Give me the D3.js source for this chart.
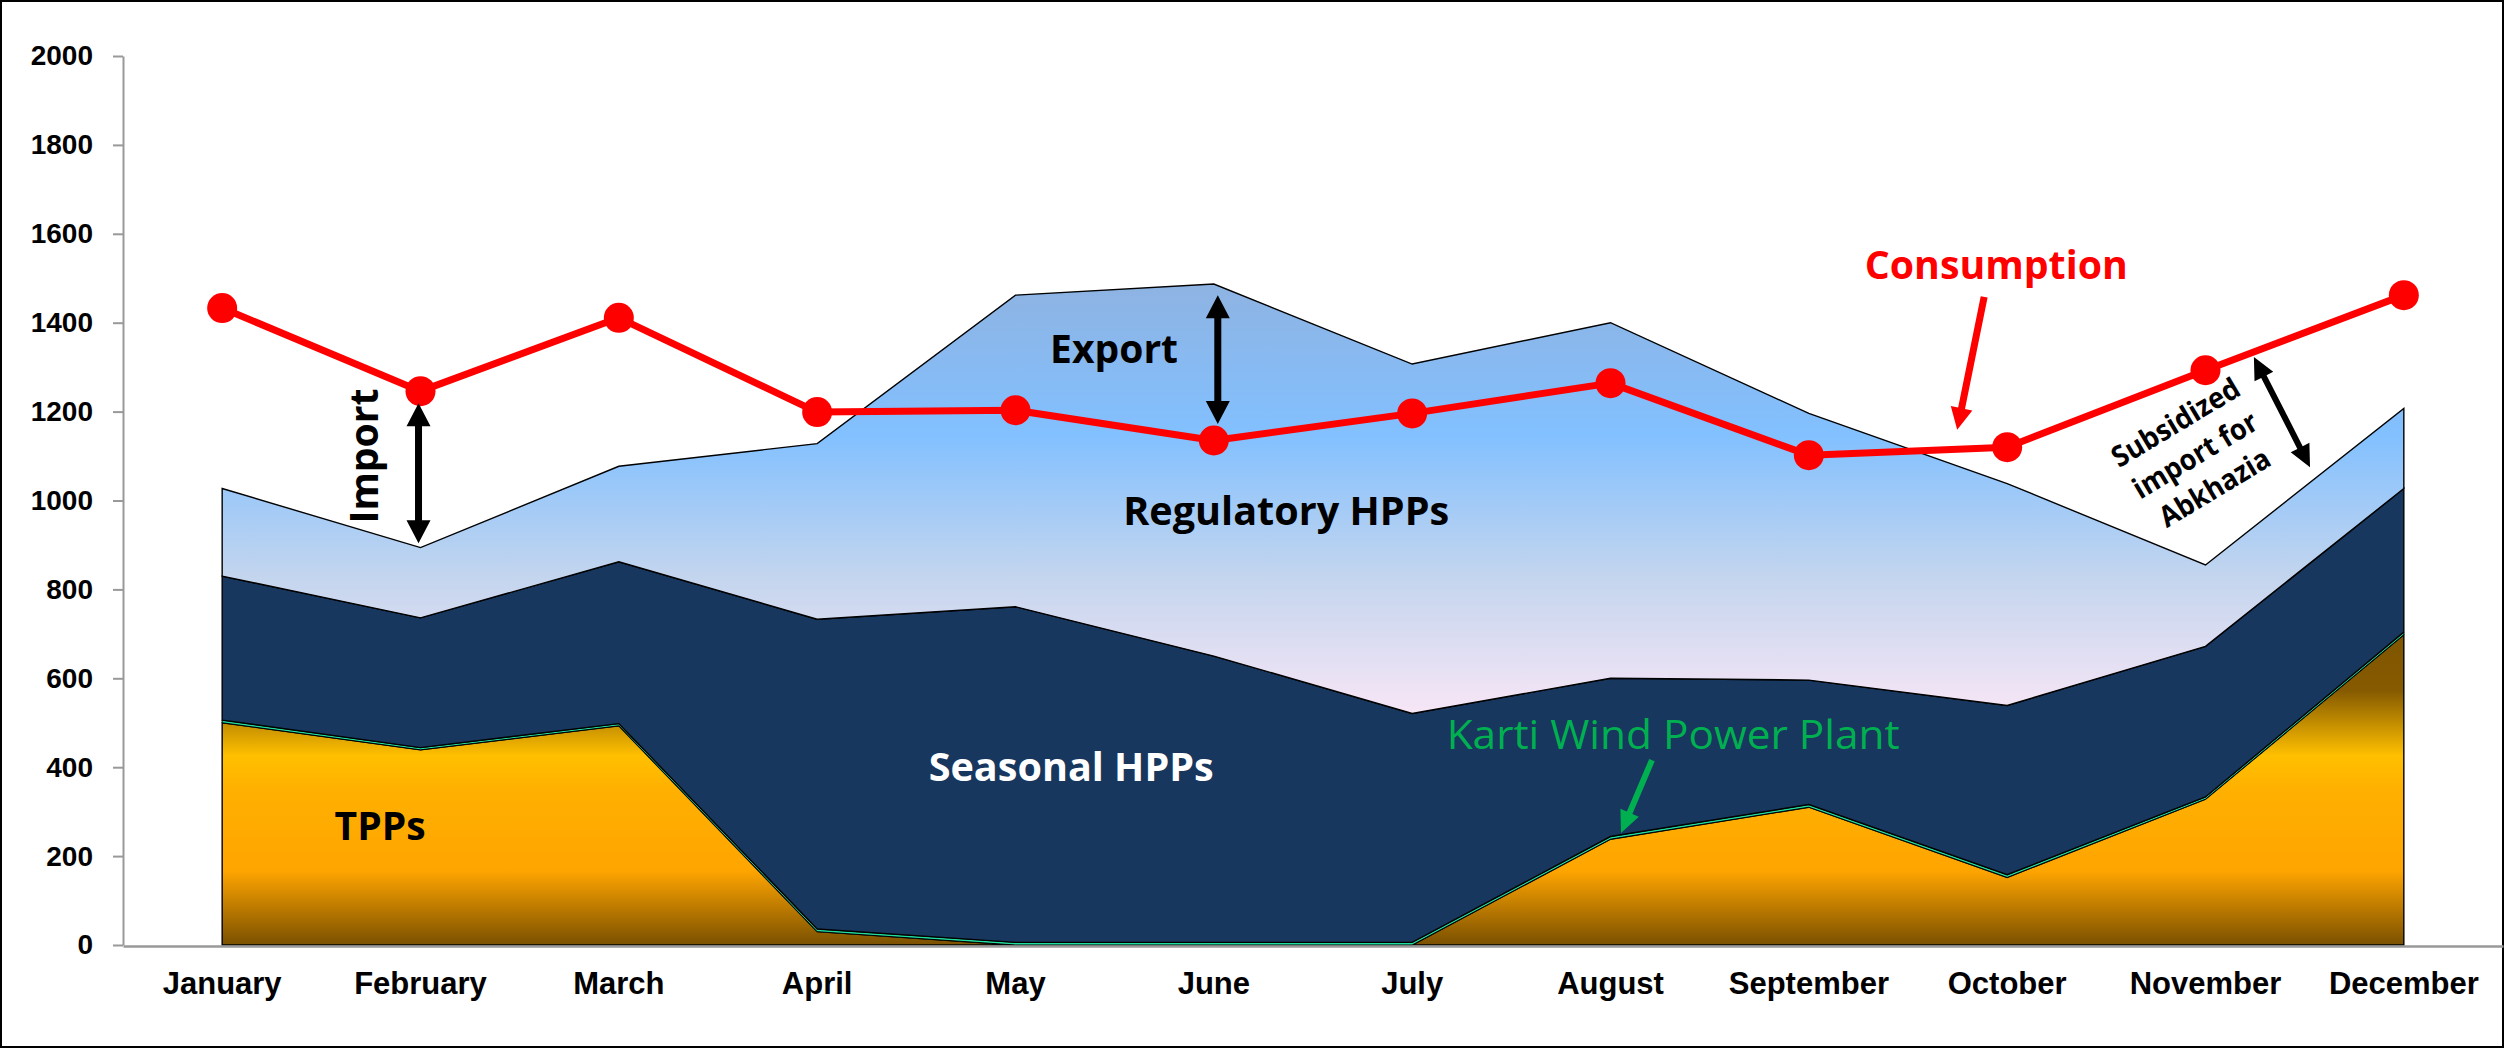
<!DOCTYPE html>
<html><head><meta charset="utf-8">
<script src="https://cdn.jsdelivr.net/npm/d3@7"></script>
<style>html,body{margin:0;padding:0;background:#fff;} svg{display:block;}</style>
</head><body><svg id="chart" width="2504" height="1048"></svg>
<script>
// ---------- data ----------
const months = ["January","February","March","April","May","June","July","August","September","October","November","December"];
const tpp        = [500, 439, 493, 30, 0, 0, 0, 238, 310, 152, 328, 698];
const wind       = [6, 5, 5, 6, 6, 6, 6, 6, 6, 6, 5, 6];
const seasonal   = [324, 292, 364, 697, 755, 644, 515, 356, 280, 381, 339, 323];
const regulatory = [197, 158, 215, 395, 701, 837, 786, 800, 600, 499, 183, 180];
const consumption = [1433, 1246, 1411, 1199, 1203, 1135, 1196, 1264, 1102, 1120, 1293, 1462];
const yTicks = [0, 200, 400, 600, 800, 1000, 1200, 1400, 1600, 1800, 2000];

// ---------- setup ----------
const W = 2504, H = 1048;
const svg = d3.select("#chart");
const x = d3.scaleBand().domain(months).range([123, 2503]).padding(0);
const xc = m => x(m) + x.bandwidth() / 2;
const xi = d3.scaleLinear().domain([0, 11]).range([xc(months[0]), xc(months[11])]);
const y = d3.scaleLinear().domain([0, 2000]).range([945, 56]);

svg.append("rect").attr("x", 1).attr("y", 1).attr("width", W - 2).attr("height", H - 2)
  .attr("fill", "#fff").attr("stroke", "#000").attr("stroke-width", 2);

const defs = svg.append("defs");
function grad(id, stops) {
  const g = defs.append("linearGradient").attr("id", id)
    .attr("x1", 0).attr("y1", 0).attr("x2", 0).attr("y2", 1);
  stops.forEach(([o, c]) => g.append("stop").attr("offset", o).attr("stop-color", c));
}
grad("gTPP", [[0, "#7f5500"], [0.18, "#855a00"], [0.39, "#ffc000"], [0.5, "#ffb000"], [0.76, "#ffa500"], [1, "#7a5000"]]);
grad("gReg", [[0, "#8eb3e2"], [0.35, "#82c0ff"], [0.68, "#c3d5ee"], [1, "#f7e6f6"]]);

// ---------- stacked areas ----------
const rows = months.map((m, i) => ({ i, tpp: tpp[i], wind: wind[i], seasonal: seasonal[i], regulatory: regulatory[i] }));
const keys = ["tpp", "wind", "seasonal", "regulatory"];
const stacked = d3.stack().keys(keys)(rows);
const fills = { tpp: "url(#gTPP)", wind: "#22dda0", seasonal: "#18375e", regulatory: "url(#gReg)" };
const area = d3.area().x((d, i) => xi(i)).y0(d => y(d[0])).y1(d => y(d[1]));

svg.append("g").selectAll("path").data(stacked).join("path")
  .attr("d", area)
  .attr("fill", d => fills[d.key])
  .attr("stroke", "#000")
  .attr("stroke-width", d => d.key === "wind" ? 1 : 1.4)
  .attr("stroke-linejoin", "miter");

// ---------- axes ----------
const yAxis = svg.append("g").attr("transform", "translate(123,0)")
  .call(d3.axisLeft(y).tickValues(yTicks).tickSize(10).tickSizeOuter(0).tickPadding(20).tickFormat(d3.format("d")));
yAxis.select(".domain").attr("stroke", "#999").attr("stroke-width", 2);
yAxis.selectAll(".tick line").attr("stroke", "#999").attr("stroke-width", 2);
yAxis.selectAll(".tick text").attr("font-family", "'Liberation Sans', Arial, sans-serif")
  .attr("font-weight", "bold").attr("font-size", 28).attr("fill", "#000");

const xAxis = svg.append("g").attr("transform", "translate(0,946)")
  .call(d3.axisBottom(x).tickSize(0).tickSizeOuter(0).tickPadding(26));
xAxis.select(".domain").attr("stroke", "#999").attr("stroke-width", 2.5);
xAxis.selectAll(".tick text").attr("font-family", "'Liberation Sans', Arial, sans-serif")
  .attr("font-weight", "bold").attr("font-size", 31).attr("fill", "#000");

// ---------- consumption line ----------
const line = d3.line().x((d, i) => xi(i)).y(d => y(d));
svg.append("path").datum(consumption).attr("d", line)
  .attr("fill", "none").attr("stroke", "#ff0000").attr("stroke-width", 7).attr("stroke-linejoin", "round");
svg.append("g").selectAll("circle").data(consumption).join("circle")
  .attr("cx", (d, i) => xi(i)).attr("cy", d => y(d)).attr("r", 15).attr("fill", "#ff0000");

// ---------- annotations ----------
const ann = svg.append("g");
function arrow(p1, p2, o) {
  const x1 = xi(p1[0]), y1 = y(p1[1]), x2 = xi(p2[0]), y2 = y(p2[1]);
  const dx = x2 - x1, dy = y2 - y1, L = Math.hypot(dx, dy), ux = dx / L, uy = dy / L, nx = -uy, ny = ux;
  const s = o.shaft / 2, hw = o.headW / 2, hl = o.headL;
  const P = (a, b) => [x1 + ux * a + nx * b, y1 + uy * a + ny * b];
  const pts = [];
  if (o.double) pts.push(P(0, 0), P(hl, hw), P(hl, s)); else pts.push(P(0, s));
  pts.push(P(L - hl, s), P(L - hl, hw), P(L, 0), P(L - hl, -hw), P(L - hl, -s));
  if (o.double) pts.push(P(hl, -s), P(hl, -hw)); else pts.push(P(0, -s));
  ann.append("path").attr("d", "M" + pts.map(p => p.join(",")).join("L") + "Z").attr("fill", o.color);
}
function label(t, idx, val, o) {
  const px = xi(idx), py = y(val);
  const el = ann.append("text").text(t)
    .attr("x", px).attr("y", py)
    .attr("text-anchor", "middle")
    .attr("font-family", "'Open Sans', 'Noto Sans', sans-serif")
    .attr("font-weight", o.weight || 700)
    .attr("font-size", o.size)
    .attr("fill", o.color || "#000");
  if (o.len) el.attr("textLength", o.len).attr("lengthAdjust", "spacingAndGlyphs");
  if (o.rotate) el.attr("transform", `rotate(${o.rotate},${px},${py})`);
  return el;
}

// Import
arrow([0.99, 1219], [0.99, 904], { shaft: 7, headW: 24, headL: 23, double: true, color: "#000" });
label("Import", 0.787, 1100, { size: 40, len: 135, rotate: -90 });
// Export
arrow([5.02, 1462], [5.02, 1172], { shaft: 7, headW: 24, headL: 23, double: true, color: "#000" });
label("Export", 4.497, 1309, { size: 39, len: 128 });
// Series labels
label("Regulatory HPPs", 5.365, 945, { size: 39, len: 326 });
label("Seasonal HPPs", 4.281, 369, { size: 40, len: 285, color: "#ffffff" });
label("TPPs", 0.796, 236, { size: 39, len: 91 });
// Consumption
label("Consumption", 8.945, 1498, { size: 39, len: 263, color: "#ff0000" });
arrow([8.884, 1458], [8.748, 1159], { shaft: 7, headW: 22, headL: 22, double: false, color: "#ff0000" });
// Karti wind
label("Karti Wind Power Plant", 7.316, 441, { size: 41, len: 453, color: "#00b050", weight: 400 });
arrow([7.209, 416], [7.053, 252], { shaft: 6, headW: 20, headL: 22, double: false, color: "#00b050" });
// Subsidized import
const subLines = ["Subsidized", "import for", "Abkhazia"];
const subLens = [144, 140, 124];
const cx = xi(9.948), cy = y(1102);
const sg = ann.append("g").attr("transform", `translate(${cx},${cy}) rotate(-31)`);
subLines.forEach((t, k) => {
  sg.append("text").text(t).attr("x", 0).attr("y", 10 + (k - 1) * 38)
    .attr("text-anchor", "middle")
    .attr("font-family", "'Open Sans', 'Noto Sans', sans-serif")
    .attr("font-weight", 700).attr("font-size", 29).attr("fill", "#000")
    .attr("textLength", subLens[k]).attr("lengthAdjust", "spacingAndGlyphs");
});
arrow([10.244, 1323], [10.527, 1075], { shaft: 6, headW: 21, headL: 22, double: true, color: "#000" });
</script>
</body></html>
